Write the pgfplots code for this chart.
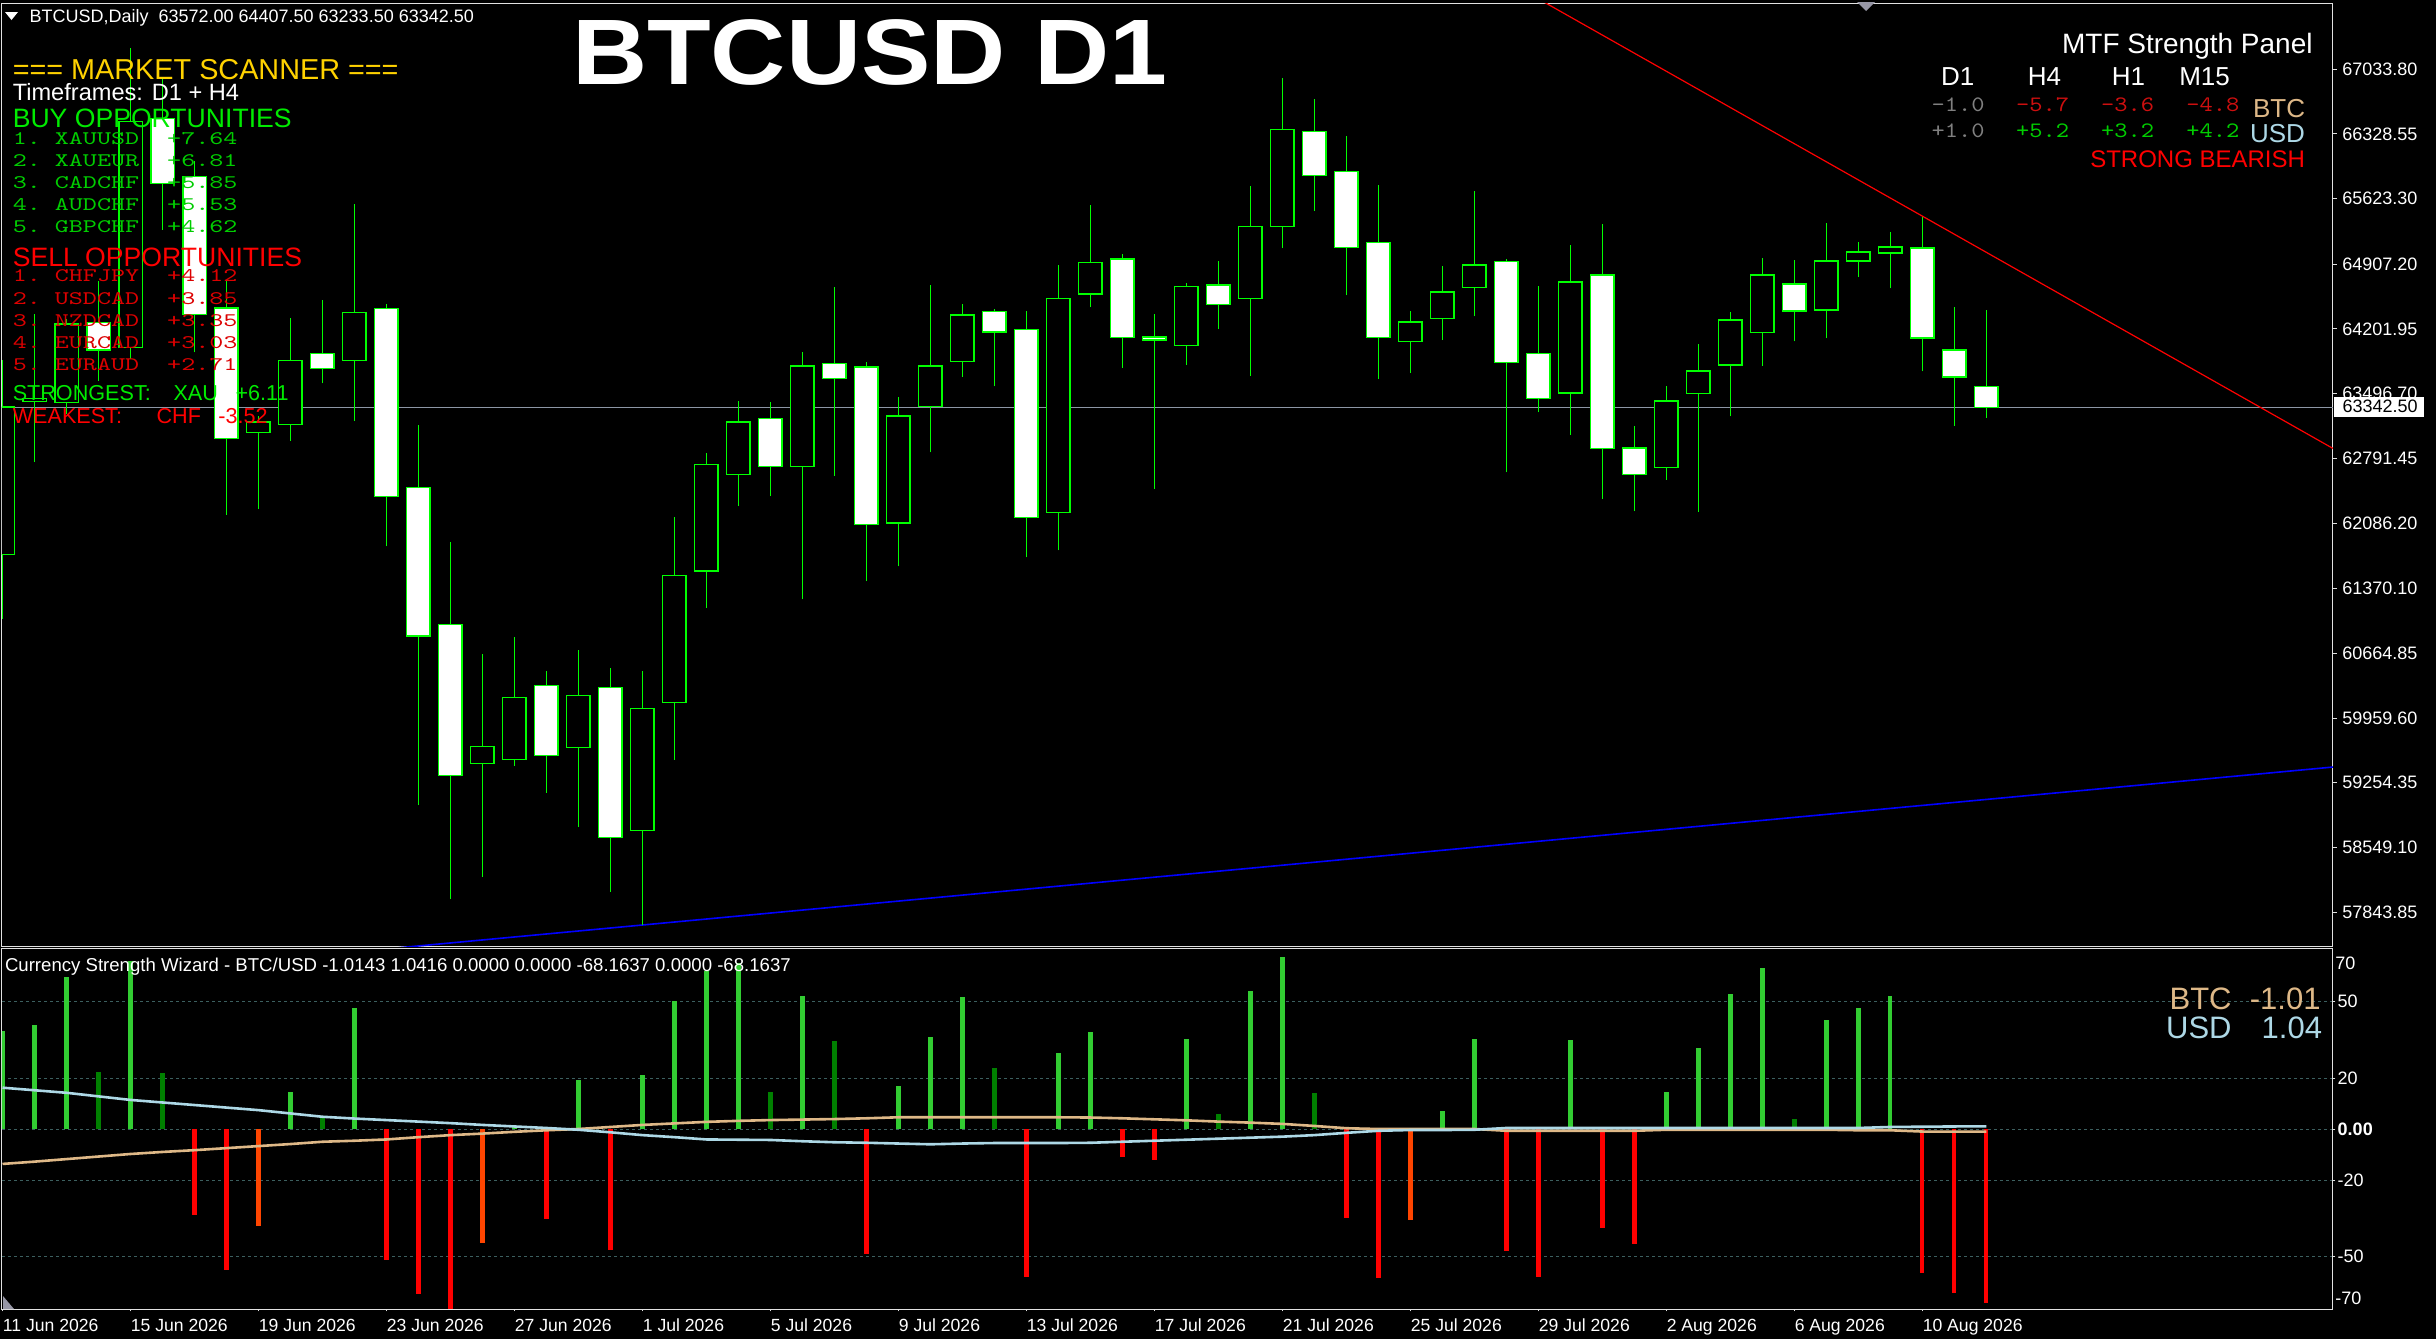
\documentclass[border=0pt]{standalone}
\usepackage{fontspec}
\setmainfont{Liberation Sans}
\setsansfont{Liberation Sans}
\newfontfamily\lmmonoA{lmmono10-regular.otf}[FakeStretch=1.393]
\newfontfamily\lmmonoB{lmmono10-regular.otf}[FakeStretch=1.147]
\usepackage{graphicx}
\usepackage{pgfplots}
\pgfplotsset{compat=1.18}
\usepackage{pgfplotstable}

\definecolor{cgreen}{RGB}{0,255,0}
\definecolor{pricegray}{RGB}{140,150,165}
\definecolor{gridc}{RGB}{60,95,95}
\definecolor{limeg}{RGB}{50,205,50}
\definecolor{darkg}{RGB}{0,128,0}
\definecolor{ored}{RGB}{255,69,0}
\definecolor{tanc}{RGB}{222,184,135}
\definecolor{lblue}{RGB}{173,216,230}
\definecolor{goldc}{RGB}{255,210,0}
\definecolor{lgreen}{RGB}{0,205,0}
\definecolor{hgreen}{RGB}{0,235,0}
\definecolor{lred}{RGB}{220,0,0}
\definecolor{mgray}{RGB}{128,128,128}
\definecolor{nred}{RGB}{205,15,15}
\definecolor{ngreen}{RGB}{0,205,0}
\definecolor{axc}{RGB}{225,225,225}
\definecolor{markg}{RGB}{150,150,165}

\newcommand{\lmono}[1]{{\fontsize{9.6}{10}\lmmonoA #1}}
\newcommand{\nmono}[1]{{\fontsize{11}{12}\lmmonoB #1}}

\pgfplotstableread{
i O H L C
0 61741 63863 61039 63351
1 63410 64368 62749 63443
2 63402 64314 63279 64256
4 64001 67269 63878 66463
8 63077 63258 62238 63187
9 63160 64325 62985 63857
11 63857 65567 63203 64379
15 59467 60659 58225 59652
16 59507 60840 59438 60183
18 59638 60698 58773 60205
20 58734 60469 57703 60063
21 60128 62157 59503 61510
22 61562 62845 61159 62728
23 62619 63421 62270 63188
25 62698 63955 61253 63798
28 62087 63456 61613 63253
29 63359 64684 62857 63798
30 63849 64479 63682 64354
33 62203 64902 61787 64537
34 64584 65556 64440 64926
37 64024 64706 63807 64669
39 64530 65763 63693 65323
40 65323 66938 65082 66381
44 64067 64401 63720 64277
45 64320 64891 64079 64604
46 64654 65708 64339 64899
49 63503 65120 63051 64713
52 62689 63584 62556 63417
53 63494 64042 62204 63744
54 63810 64390 63250 64300
55 64165 64978 63802 64790
57 64409 65360 64099 64942
58 64942 65153 64771 65040
59 65030 65262 64644 65095
}\bulls

\pgfplotstableread{
i O H L C
3 64274 64728 63639 63973
5 66500 66928 65283 65792
6 65864 66035 63947 64358
7 64431 64728 62174 63004
10 63933 64513 63610 63769
12 64428 64471 61831 62375
13 62473 63151 59010 60855
14 60976 61874 57986 59336
17 60313 60469 59144 59551
19 60292 60502 58065 58658
24 63225 63410 62379 62698
26 63829 64663 62604 63662
27 63787 63846 61453 62067
31 64394 64423 63577 64168
32 64199 64401 61711 62147
35 64965 65023 63779 64106
36 64114 64370 62456 64082
38 64681 64946 64199 64471
41 66357 66711 65490 65879
42 65918 66307 64569 65086
43 65148 65775 63654 64106
47 64941 64960 62639 63837
48 63931 64674 63292 63441
50 64790 65350 62347 62896
51 62904 63149 62215 62612
56 64692 64957 64067 64398
60 65084 65428 63740 64104
61 63973 64445 63149 63679
62 63572 64407.5 63233.5 63342.5
}\bears

\pgfplotsset{
  wick/.style={draw=none, no markers, forget plot,
    error bars/.cd, y dir=plus, y explicit, error mark=none,
    error bar style={draw=cgreen, line width=0.5pt}},
  candle/.style={draw=none, no markers, forget plot,
    error bars/.cd, y dir=plus, y explicit,
    draw error bar/.code 2 args={%
      \path ##2 ++(5.8pt,0pt) coordinate (cbtop);
      \draw[draw=cgreen, fill=#1, line width=0.6pt] ##1 ++(-5.8pt,0pt) rectangle (cbtop);%
    }},
}

\begin{document}
\begin{tikzpicture}
\fill[black] (0,0) rectangle (1218pt,-669.5pt);
\useasboundingbox (0,0) rectangle (1218pt,-669.5pt);

% ---------------- main price panel ----------------
\begin{axis}[at={(1pt,-473pt)}, anchor=south west, scale only axis,
  width=1165.5pt, height=471.5pt,
  xmin=-0.016, xmax=72.83, ymin=57474, ymax=67756,
  axis line style={axc, line width=0.5pt},
  xtick=\empty,
  ytick={67033.80,66328.55,65623.30,64907.20,64201.95,63496.70,62791.45,62086.20,61370.10,60664.85,59959.60,59254.35,58549.10,57843.85},
  yticklabels={67033.80,66328.55,65623.30,64907.20,64201.95,63496.70,62791.45,62086.20,61370.10,60664.85,59959.60,59254.35,58549.10,57843.85},
  scaled y ticks=false,
  ytick pos=right, yticklabel pos=right,
  tick align=outside, major tick length=2pt,
  tick style={axc, line width=0.5pt},
  yticklabel style={font=\fontsize{9}{10}\selectfont, text=white, anchor=west, inner sep=0pt, xshift=2.5pt},
]
\addplot[pricegray, line width=0.6pt, forget plot] coordinates {(-1,63342.5) (80,63342.5)};
\addplot[red, line width=0.6pt, forget plot] coordinates {(45,68393) (75,62471)};
\addplot[blue, line width=0.8pt, forget plot] coordinates {(10,57377) (75,59496)};
\addplot[wick] table[x=i, y=L, y error plus expr=\thisrow{H}-\thisrow{L}] {\bulls};
\addplot[wick] table[x=i, y=L, y error plus expr=\thisrow{H}-\thisrow{L}] {\bears};
\addplot[candle=black] table[x=i, y=O, y error plus expr=\thisrow{C}-\thisrow{O}] {\bulls};
\addplot[candle=white] table[x=i, y=C, y error plus expr=\thisrow{O}-\thisrow{C}] {\bears};
\end{axis}

% ---------------- indicator panel ----------------
\begin{axis}[at={(1pt,-654.5pt)}, anchor=south west, scale only axis,
  width=1165.5pt, height=180pt,
  xmin=-0.016, xmax=72.83, ymin=-70.6, ymax=70.6,
  axis line style={axc, line width=0.5pt},
  xtick={0,4,...,60},
  xticklabels={11 Jun 2026,15 Jun 2026,19 Jun 2026,23 Jun 2026,27 Jun 2026,1 Jul 2026,5 Jul 2026,9 Jul 2026,13 Jul 2026,17 Jul 2026,21 Jul 2026,25 Jul 2026,29 Jul 2026,2 Aug 2026,6 Aug 2026,10 Aug 2026},
  xtick pos=bottom, ytick pos=right, yticklabel pos=right,
  ytick={-50,-20,0,20,50},
  yticklabels={-50,-20,\textbf{0.00},20,50},
  extra y ticks={65.1,-66.3}, extra y tick labels={70,-70},
  extra y tick style={grid=none, major tick length=0pt},
  ymajorgrids, grid style={gridc, line width=0.5pt, dash pattern=on 1.5pt off 1.5pt},
  tick align=outside, major tick length=1.2pt,
  tick style={axc, line width=0.5pt},
  yticklabel style={font=\fontsize{9}{10}\selectfont, text=white, anchor=west, inner sep=0pt, xshift=1pt},
  xticklabel style={font=\fontsize{8.8}{10}\selectfont, text=white, anchor=base west, inner sep=0pt, yshift=-10pt},
]
\addplot[ycomb, limeg, line width=2.1pt] coordinates {
(0,38.5) (1,40.8) (2,59.7) (4,66.0) (9,14.5) (11,47.4) (16,0.8) (18,19.2) (20,21.2) (21,50.2) (22,61.9) (23,65.2) (25,52.1) (28,16.8) (29,36.1) (30,51.7) (33,29.7) (34,38.0) (37,35.3) (39,54.1) (40,67.4) (45,7.0) (46,35.3) (49,34.9) (52,14.5) (53,31.9) (54,52.9) (55,63.1) (57,42.7) (58,47.4) (59,52.1)};
\addplot[ycomb, darkg, line width=2.1pt] coordinates {
(3,22.3) (5,21.9) (10,4.4) (24,14.5) (26,34.5) (31,23.9) (38,5.9) (41,14.1) (56,3.9)};
\addplot[ycomb, red, line width=2.1pt] coordinates {
(6,-33.7) (7,-55.3) (12,-51.4) (13,-64.7) (14,-70.7) (17,-35.3) (19,-47.5) (27,-49.0) (32,-57.9) (35,-10.9) (36,-12.2) (42,-34.8) (43,-58.3) (47,-47.9) (48,-57.9) (50,-38.7) (51,-45.1) (60,-56.4) (61,-64.2) (62,-68.16)};
\addplot[ycomb, ored, line width=2.1pt] coordinates {
(8,-38.0) (15,-44.9) (44,-35.7)};
\addplot[tanc, line width=1.3pt] coordinates {
(0,-13.7) (1,-12.8) (2,-11.8) (3,-10.8) (4,-9.8) (5,-9.0) (6,-8.3) (7,-7.5) (8,-6.7) (9,-5.9) (10,-5.0) (11,-4.6) (12,-4.1) (13,-3.2) (14,-2.4) (15,-1.8) (16,-1.1) (17,-0.5) (18,0.0) (19,0.8) (20,1.6) (21,2.2) (22,2.8) (23,3.2) (24,3.5) (25,3.7) (26,3.9) (27,4.2) (28,4.6) (29,4.6) (30,4.6) (31,4.6) (32,4.6) (33,4.6) (34,4.5) (35,4.2) (36,3.8) (37,3.4) (38,2.9) (39,2.5) (40,2.0) (41,1.2) (42,0.3) (43,0.0) (44,0.0) (45,0.0) (46,0.0) (47,-0.7) (48,-0.7) (49,-0.7) (50,-0.7) (51,-0.7) (52,-0.3) (53,-0.3) (54,-0.3) (55,-0.3) (56,-0.3) (57,-0.3) (58,-0.5) (59,-0.5) (60,-1.0) (61,-1.0) (62,-1.01)};
\addplot[lblue, line width=1.3pt] coordinates {
(0,16.2) (1,15.2) (2,14.2) (3,12.8) (4,11.4) (5,10.4) (6,9.4) (7,8.4) (8,7.4) (9,6.1) (10,4.8) (11,4.1) (12,3.5) (13,2.9) (14,2.3) (15,1.6) (16,1.0) (17,0.4) (18,-0.3) (19,-1.3) (20,-2.4) (21,-3.2) (22,-4.1) (23,-4.2) (24,-4.3) (25,-4.8) (26,-5.2) (27,-5.4) (28,-5.7) (29,-6.0) (30,-5.7) (31,-5.5) (32,-5.5) (33,-5.5) (34,-5.4) (35,-5.0) (36,-4.6) (37,-4.2) (38,-3.8) (39,-3.4) (40,-3.0) (41,-2.4) (42,-1.5) (43,-0.7) (44,-0.4) (45,-0.4) (46,-0.3) (47,0.4) (48,0.4) (49,0.4) (50,0.4) (51,0.4) (52,0.4) (53,0.4) (54,0.4) (55,0.4) (56,0.4) (57,0.4) (58,0.4) (59,0.8) (60,0.9) (61,1.0) (62,1.04)};
\end{axis}

% ---------------- texts and decorations ----------------
\begin{scope}[x=0.5pt,y=-0.5pt, every node/.style={inner sep=0pt, outer sep=0pt}]
\fill[white] (5,12) -- (18,12) -- (11.5,20) -- cycle;
\fill[markg] (1857,2) -- (1875,2) -- (1866,11) -- cycle;
\fill[markg] (3,1296) -- (3,1309) -- (14,1309) -- cycle;
\node[anchor=base west, text=white, font=\fontsize{9}{10}\selectfont] at (29.6,22.7) {BTCUSD,Daily\ \ 63572.00 64407.50 63233.50 63342.50};
\node[anchor=base west, text=white, font=\fontsize{46.5}{50}\selectfont\bfseries] at (572,84.5) {\scalebox{1.12}[1]{BTCUSD D1}};

\node[anchor=base west, text=goldc, font=\fontsize{14.4}{16}\selectfont] at (12.8,79.3) {=== MARKET SCANNER ===};
\node[anchor=base west, text=white, font=\fontsize{11.8}{13}\selectfont] at (12.8,100.7) {Timeframes: D1 + H4};
\node[anchor=base west, text=hgreen, font=\fontsize{13.3}{15}\selectfont] at (12.8,127.7) {BUY OPPORTUNITIES};
\node[anchor=base west, text=lgreen] at (12.8,144) {\lmono{1.~XAUUSD~~+7.64}};
\node[anchor=base west, text=lgreen] at (12.8,166.2) {\lmono{2.~XAUEUR~~+6.81}};
\node[anchor=base west, text=lgreen] at (12.8,188.3) {\lmono{3.~CADCHF~~+5.85}};
\node[anchor=base west, text=lgreen] at (12.8,210.4) {\lmono{4.~AUDCHF~~+5.53}};
\node[anchor=base west, text=lgreen] at (12.8,232.4) {\lmono{5.~GBPCHF~~+4.62}};
\node[anchor=base west, text=red, font=\fontsize{13.3}{15}\selectfont] at (12.8,266) {SELL OPPORTUNITIES};
\node[anchor=base west, text=lred] at (12.8,281.8) {\lmono{1.~CHFJPY~~+4.12}};
\node[anchor=base west, text=lred] at (12.8,304) {\lmono{2.~USDCAD~~+3.85}};
\node[anchor=base west, text=lred] at (12.8,326) {\lmono{3.~NZDCAD~~+3.35}};
\node[anchor=base west, text=lred] at (12.8,348) {\lmono{4.~EURCAD~~+3.03}};
\node[anchor=base west, text=lred] at (12.8,370) {\lmono{5.~EURAUD~~+2.71}};
\node[anchor=base west, text=hgreen, font=\fontsize{10.8}{12}\selectfont] at (12.8,400) {STRONGEST:};
\node[anchor=base west, text=hgreen, font=\fontsize{10.8}{12}\selectfont] at (173.5,400) {XAU};
\node[anchor=base west, text=hgreen, font=\fontsize{10.8}{12}\selectfont] at (235.5,400) {+6.11};
\node[anchor=base west, text=red, font=\fontsize{10.8}{12}\selectfont] at (12.8,423) {WEAKEST:};
\node[anchor=base west, text=red, font=\fontsize{10.8}{12}\selectfont] at (156.6,423) {CHF};
\node[anchor=base west, text=red, font=\fontsize{10.8}{12}\selectfont] at (218.4,423) {-3.52};

\node[anchor=base east, text=white, font=\fontsize{14}{16}\selectfont] at (2312.6,53.3) {MTF Strength Panel};
\node[anchor=base, text=white, font=\fontsize{13}{15}\selectfont] at (1957.6,85) {D1};
\node[anchor=base, text=white, font=\fontsize{13}{15}\selectfont] at (2044.4,85) {H4};
\node[anchor=base, text=white, font=\fontsize{13}{15}\selectfont] at (2128.4,85) {H1};
\node[anchor=base, text=white, font=\fontsize{13}{15}\selectfont] at (2204.6,85) {M15};
\node[anchor=base west, text=mgray] at (1931.5,111.7) {\nmono{-1.0}};
\node[anchor=base west, text=nred] at (2016,111.7) {\nmono{-5.7}};
\node[anchor=base west, text=nred] at (2101,111.7) {\nmono{-3.6}};
\node[anchor=base west, text=nred] at (2186.3,111.7) {\nmono{-4.8}};
\node[anchor=base east, text=tanc, font=\fontsize{13}{15}\selectfont] at (2305,117.3) {BTC};
\node[anchor=base west, text=mgray] at (1931.5,137.3) {\nmono{+1.0}};
\node[anchor=base west, text=ngreen] at (2016,137.3) {\nmono{+5.2}};
\node[anchor=base west, text=ngreen] at (2101,137.3) {\nmono{+3.2}};
\node[anchor=base west, text=ngreen] at (2186.3,137.3) {\nmono{+4.2}};
\node[anchor=base east, text=lblue, font=\fontsize{13}{15}\selectfont] at (2305,142.7) {USD};
\node[anchor=base east, text=red, font=\fontsize{12}{14}\selectfont] at (2305,167.7) {STRONG BEARISH};

\fill[white] (2334,396.5) rectangle (2424,417);
\node[anchor=west, text=black, font=\fontsize{9}{10}\selectfont] at (2342.5,406.7) {63342.50};

\node[anchor=base west, text=white, font=\fontsize{9.3}{10}\selectfont] at (5,971.7) {Currency Strength Wizard - BTC/USD -1.0143 1.0416 0.0000 0.0000 -68.1637 0.0000 -68.1637};
\node[anchor=base east, text=tanc, font=\fontsize{15.5}{17}\selectfont] at (2231.6,1009) {BTC};
\node[anchor=base east, text=tanc, font=\fontsize{15.5}{17}\selectfont] at (2320.5,1009) {-1.01};
\node[anchor=base east, text=lblue, font=\fontsize{15.5}{17}\selectfont] at (2231.6,1038.3) {USD};
\node[anchor=base east, text=lblue, font=\fontsize{15.5}{17}\selectfont] at (2322,1038.3) {1.04};
\end{scope}
\end{tikzpicture}
\end{document}
